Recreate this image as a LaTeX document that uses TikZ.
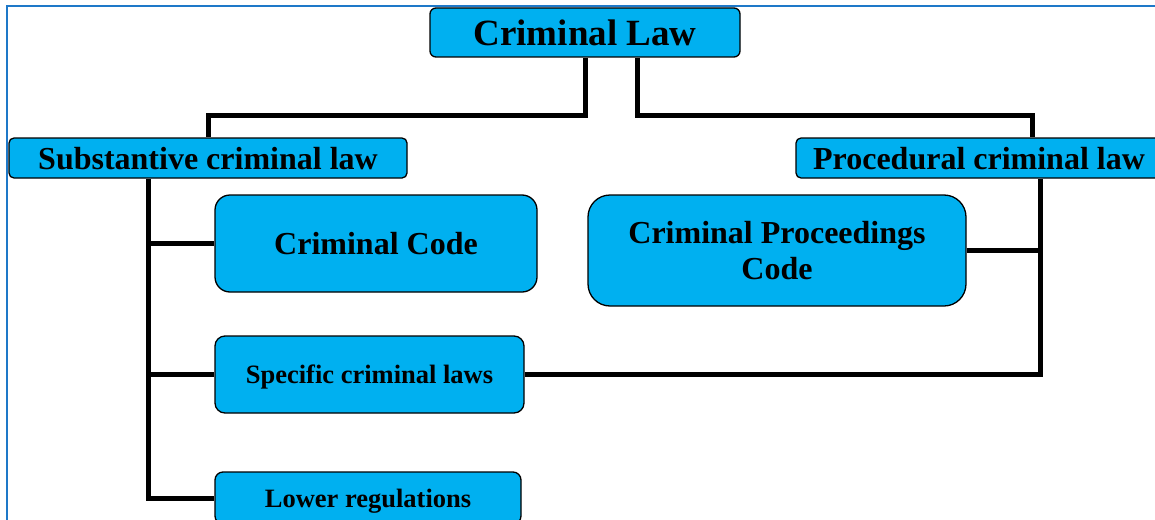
\documentclass[tikz,border=0pt]{standalone}
\usepackage{fontspec}
\setmainfont{Liberation Serif}
\usetikzlibrary{backgrounds}
\definecolor{boxfill}{HTML}{00B0F0}
\definecolor{framecol}{HTML}{1E78C8}
\tikzset{
  box/.style={draw=black, line width=1.3pt, fill=boxfill, align=center,
    inner sep=0pt, text depth=0pt, font=\bfseries},
  big/.style={font=\bfseries\fontsize{37}{40}\selectfont},
  mid/.style={font=\bfseries\fontsize{32}{36}\selectfont},
  small/.style={font=\bfseries\fontsize{26.5}{30}\selectfont},
  conn/.style={draw=black, line width=5pt},
}
\begin{document}
\begin{tikzpicture}[x=1pt, y=-1pt]
  \useasboundingbox (0,0) rectangle (1155,519);
  \clip (0,0) rectangle (1155,519);
  % outer frame
  \draw[framecol, line width=2.5pt] (7,530) |- (1170,6);

  % boxes
  \node[box, big, rounded corners=6pt, minimum width=310pt, minimum height=49pt] (CL) at (585,32.5) {Criminal Law};
  \node[box, mid, rounded corners=5pt, minimum width=398pt, minimum height=40pt] (SUB) at (208,158) {Substantive criminal law};
  \node[box, mid, rounded corners=5pt, minimum width=366pt, minimum height=40pt] (PROC) at (979,158) {Procedural criminal law};
  \node[box, mid, rounded corners=15pt, minimum width=322pt, minimum height=97pt] (CC) at (376,243.5) {Criminal Code};
  \node[box, mid, rounded corners=22pt, minimum width=378pt, minimum height=111pt] (CPC) at (777,250.5) {Criminal Proceedings\\Code};
  \node[box, small, rounded corners=10pt, minimum width=309pt, minimum height=77pt] (SCL) at (369.5,374.5) {Specific criminal laws};
  \node[box, small, rounded corners=8pt, minimum width=306pt, minimum height=52pt] (LR) at (368,498) {Lower regulations};

  % connectors, kept behind the boxes
  \begin{scope}[on background layer]
    \draw[conn] (CL.south) -- ++(0,58) -| (SUB.north);
    \draw[conn] ([xshift=52pt]CL.south) -- ++(0,58) -| ([xshift=53pt]PROC.north);
    % left trunk
    \draw[conn] ([xshift=-60pt]SUB.south) coordinate (lt) |- (LR.west);
    \draw[conn] (CC.west) -- (CC.west -| lt);
    \draw[conn] (SCL.west) -- (SCL.west -| lt);
    % right trunk
    \draw[conn] ([xshift=61pt]PROC.south) coordinate (rt) |- (SCL.east);
    \draw[conn] (CPC.east) -- (CPC.east -| rt);
  \end{scope}
\end{tikzpicture}
\end{document}
